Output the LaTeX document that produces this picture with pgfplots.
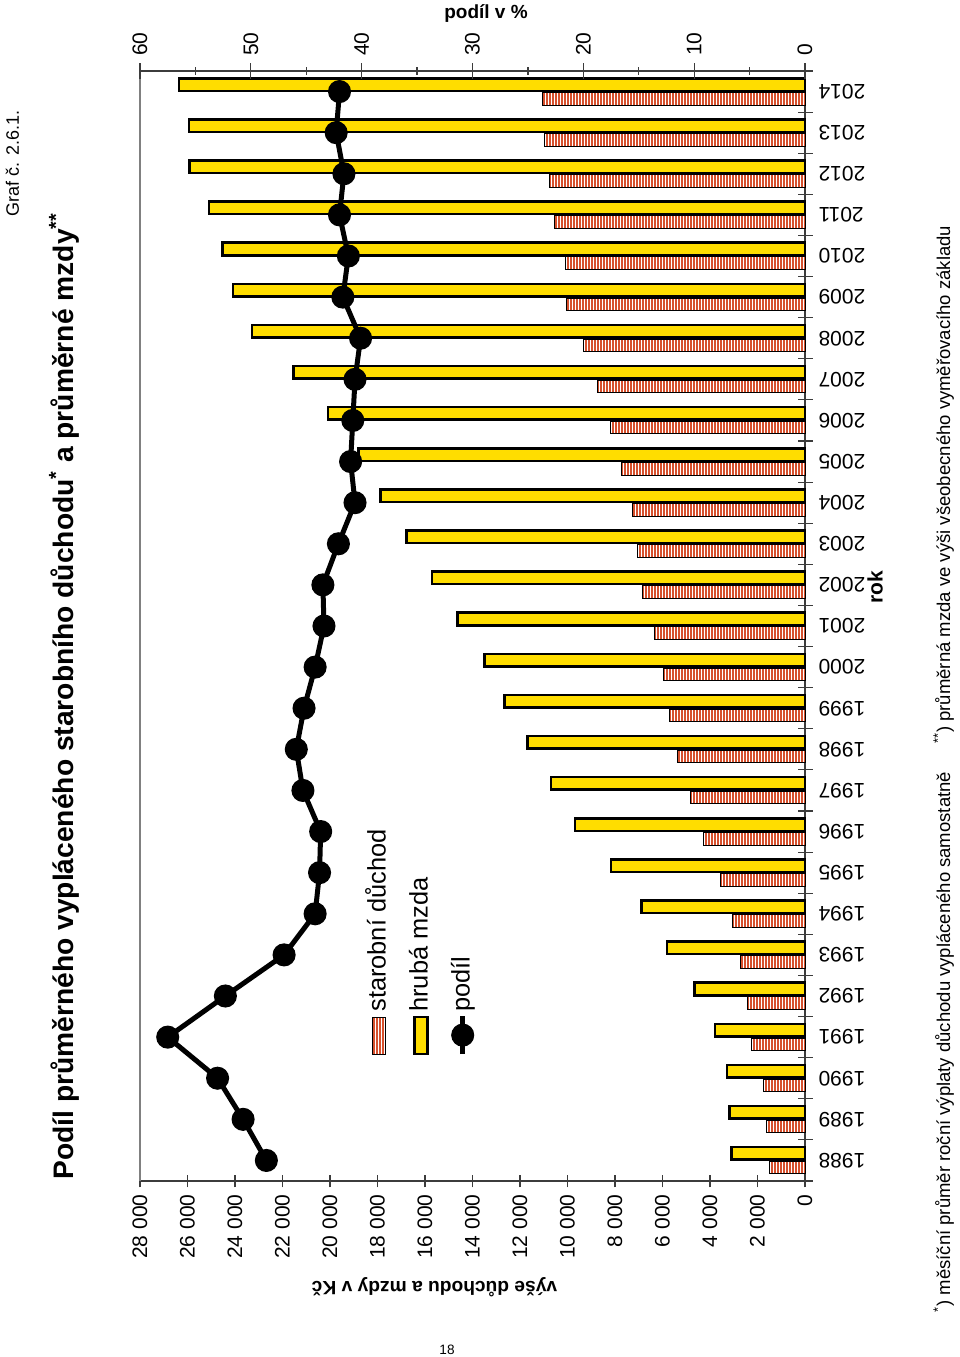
\documentclass[border=0pt]{standalone}
\usepackage{fontspec}
\setmainfont{Liberation Sans}
\usepackage{pgfplots}
\usepackage{pgfplotstable}
\pgfplotsset{compat=1.18}
\usetikzlibrary{patterns}

\definecolor{barY}{RGB}{255,221,0}
\definecolor{barR}{RGB}{214,80,45}
\definecolor{axgray}{RGB}{60,60,60}

\pgfdeclarepatternformonly{rstripes}{\pgfpoint{0pt}{0pt}}{\pgfpoint{1.7pt}{60pt}}{\pgfpoint{1.7pt}{60pt}}{%
  \pgfpathrectangle{\pgfpointorigin}{\pgfpoint{1.15pt}{60pt}}\pgfusepath{fill}}

\newcommand{\tickfont}{\fontsize{10.5}{12}\selectfont}
\newcommand{\legfont}{\fontsize{12.7}{14}\selectfont}

\pgfplotstableread{
year pension wage share
1988 1516 3094 48.6
1989 1614 3170 50.7
1990 1754 3286 53.0
1991 2232 3792 57.5
1992 2442 4644 52.3
1993 2737 5817 47.0
1994 3032 6896 44.2
1995 3579 8172 43.8
1996 4253 9676 43.7
1997 4842 10696 45.3
1998 5362 11693 45.9
1999 5726 12655 45.2
2000 5965 13483 44.2
2001 6358 14640 43.4
2002 6835 15711 43.5
2003 7059 16769 42.1
2004 7256 17882 40.6
2005 7719 18809 41.0
2006 8182 20080 40.8
2007 8730 21527 40.6
2008 9334 23290 40.1
2009 10035 24091 41.7
2010 10105 24526 41.2
2011 10540 25093 42.0
2012 10779 25920 41.6
2013 10977 25942 42.3
2014 11061 26357 42.0
}\data

\pgfplotsset{
  swatch legend/.style={legend image code/.code={\draw[##1] (0pt,-3.25pt) rectangle (18.5pt,3.25pt);}},
  dotline legend/.style={legend image code/.code={\draw[mark repeat=2, mark phase=2, ##1] plot coordinates {(0pt,0pt) (9.5pt,0pt) (19pt,0pt)};}},
}

\begin{document}
\begin{tikzpicture}
\useasboundingbox (0,0) rectangle (480pt,678.5pt);
\begin{scope}[rotate=90, transform shape]
\begin{axis}[
  at={(88pt,-402.5pt)}, anchor=south west,
  scale only axis, width=555pt, height=332.5pt,
  xmin=1987.5, xmax=2014.5, ymin=0, ymax=28000,
  axis x line*=bottom, axis y line*=left,
  axis line style={draw=axgray, line width=0.75pt},
  xtick={1988,...,2014},
  xticklabels={1988,1989,1990,1991,1992,1993,1994,1995,1996,1997,1998,1999,2000,2001,2002,2003,2004,2005,2006,2007,2008,2009,2010,2011,2012,2013,2014},
  major x tick style={draw=none},
  minor xtick={1987.5,1988.5,...,2014.5},
  minor x tick style={draw=axgray, line width=0.6pt},
  minor tick length=7.5pt,
  major tick length=6.5pt,
  tick align=center,
  y tick style={draw=axgray, line width=0.6pt},
  xticklabel style={rotate=90, anchor=east, font=\tickfont},
  ytick={0,2000,...,28000},
  scaled y ticks=false,
  yticklabel style={font=\tickfont},
  /pgf/number format/.cd, 1000 sep={\ }, assume math mode=true,
  /pgfplots/.cd,
  ylabel={výše důchodu a mzdy v Kč},
  every axis y label/.style={at={(rel axis cs:0,0.5)}, xshift=-53pt, yshift=19pt, rotate=90, anchor=center, font=\bfseries\fontsize{9.6}{12}\selectfont},
  xlabel={rok},
  every axis x label/.style={at={(rel axis cs:0.5,0)}, xshift=19.5pt, yshift=-35pt, anchor=center, font=\bfseries\fontsize{10.5}{12}\selectfont},
  clip=false,
]
\draw[gray, line width=0.6pt] (rel axis cs:0,1) -- (rel axis cs:1,1);
\addplot[ybar, bar width=6.3pt, bar shift=-3.6pt, draw=black, line width=0.5pt, pattern=rstripes, pattern color=barR] table[x=year, y=pension] {\data};
\addplot[ybar, bar width=6.3pt, bar shift=3.5pt, draw=black, line width=1.3pt, fill=barY] table[x=year, y=wage] {\data};
\end{axis}
\begin{axis}[
  at={(88pt,-402.5pt)}, anchor=south west,
  scale only axis, width=555pt, height=332.5pt,
  xmin=1987.5, xmax=2014.5, ymin=0, ymax=60,
  axis x line=none, axis y line*=right,
  axis line style={draw=axgray, line width=0.75pt},
  ytick={0,10,...,60}, minor ytick={5,15,...,55},
  major tick length=8pt, minor tick length=4pt, tick align=center,
  y tick style={draw=axgray, line width=0.6pt},
  yticklabel style={font=\tickfont},
  /pgf/number format/.cd, assume math mode=true,
  /pgfplots/.cd,
  ylabel={podíl v \%},
  every axis y label/.style={at={(rel axis cs:1,0.5)}, xshift=28.5pt, yshift=-6.75pt, rotate=-90, anchor=center, font=\bfseries\fontsize{9.5}{12}\selectfont},
  legend style={at={(axis description cs:0.1117,0.663)}, anchor=north west, draw=none, fill=none, inner sep=0pt, row sep=6.8pt, font=\legfont, nodes={inner sep=1pt, text height=9.5pt, text depth=2.7pt}},
  legend cell align=left,
  clip=false,
]
\addlegendimage{swatch legend, draw=black, line width=0.5pt, pattern=rstripes, pattern color=barR}
\addlegendentry{starobní důchod}
\addlegendimage{swatch legend, draw=black, line width=1.3pt, fill=barY}
\addlegendentry{hrubá mzda}
\addplot[black, line width=2.5pt, mark=*, mark size=4.5pt, dotline legend]
  table[x=year, y=share] {\data};
\addlegendentry{podíl}
\end{axis}
\node[anchor=base west, inner sep=0pt, font=\bfseries\fontsize{14.1}{16}\selectfont] at (88.5pt,-36.5pt) {Podíl průměrného vypláceného starobního důchodu\textsuperscript{*} a průměrné mzdy\textsuperscript{**}};
\node[anchor=base west, font=\fontsize{9.25}{11}\selectfont, inner sep=0pt] at (22pt,-475pt) {\textsuperscript{*}) měsíční průměr roční výplaty důchodu vypláceného samostatně\hspace{14pt}\textsuperscript{**}) průměrná mzda ve výši všeobecného vyměřovacího základu};
\node[anchor=base east, font=\fontsize{9}{11}\selectfont, inner sep=0pt] at (623.5pt,-9.5pt) {Graf č. 2.6.1.};
\end{scope}
\node[font=\fontsize{6.8}{8}\selectfont] at (223.5pt,3.5pt) {18};
\end{tikzpicture}
\end{document}
